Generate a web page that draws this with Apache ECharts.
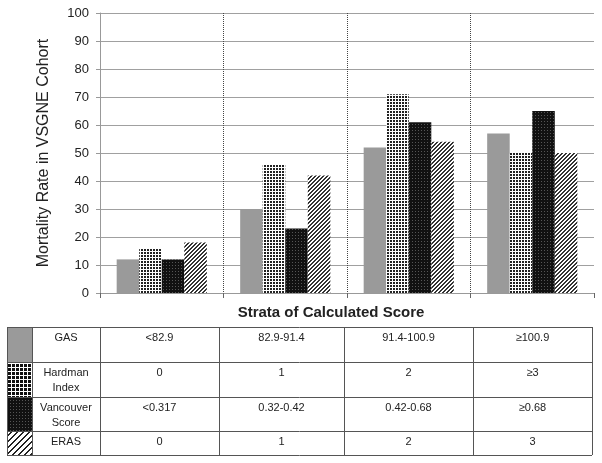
<!DOCTYPE html>
<html>
<head>
<meta charset="utf-8">
<script src="https://cdn.jsdelivr.net/npm/echarts@6/dist/echarts.min.js"></script>
<style>
  html, body { margin: 0; padding: 0; background: #fff; }
  #main { width: 602px; height: 463px; }
</style>
</head>
<body>
<div id="main"></div>
<script>
// strata (x categories) and mortality rate per score
var strata = ['Stratum 1', 'Stratum 2', 'Stratum 3', 'Stratum 4'];
var scoreNames = ['GAS', 'Hardman\nIndex', 'Vancouver\nScore', 'ERAS'];
var gasValues = [12, 30, 52, 57];
var hardmanValues = [16, 46, 71, 50];
var vancouverValues = [12, 23, 61, 65];
var erasValues = [18, 42, 54, 50];

// cut-offs shown in the table under the chart
var gasCuts = ['<82.9', '82.9-91.4', '91.4-100.9', '\u2265100.9'];
var hardmanCuts = ['0', '1', '2', '\u22653'];
var vancouverCuts = ['<0.317', '0.32-0.42', '0.42-0.68', '\u22650.68'];
var erasCuts = ['0', '1', '2', '3'];

var yMin = 0, yMax = 100, yStep = 10;

// little canvas tiles for the black & white fills
function tile(size, paint) {
    var c = document.createElement('canvas');
    c.width = size; c.height = size;
    var ctx = c.getContext('2d');
    for (var x = 0; x < size; x++) {
        for (var y = 0; y < size; y++) {
            ctx.fillStyle = paint(x, y);
            ctx.fillRect(x, y, 1, 1);
        }
    }
    return { image: c, repeat: 'repeat' };
}

var fills = [
    '#9a9a9a',
    tile(3, function (x, y) { return (x < 2 && y < 2) ? '#222' : '#fff'; }),
    tile(3, function (x, y) { return (x == 1 && y == 1) ? '#555' : '#111'; }),
    tile(4, function (x, y) { var k = (x + y) % 4; return (k == 2 || k == 3) ? '#333' : '#fff'; })
];
var swatchFills = [
    '#9a9a9a',
    tile(4, function (x, y) { return (x < 3 && y < 3) ? '#111' : '#fff'; }),
    tile(3, function (x, y) { return (x == 1 && y == 1) ? '#555' : '#111'; }),
    tile(6, function (x, y) { var k = (x + y) % 6; return (k == 4 || k == 5) ? '#222' : '#fff'; })
];

var allValues = [gasValues, hardmanValues, vancouverValues, erasValues];
var allCuts = [gasCuts, hardmanCuts, vancouverCuts, erasCuts];

// table layout
var colX = [7, 32, 100, 219, 344, 473, 592];
var rowY = [327, 362, 397, 431, 455];
var txt = '#222';
var lineCol = '#555';

var table = [];
for (var r = 0; r < 4; r++) {
    table.push({
        type: 'rect',
        shape: { x: colX[0], y: rowY[r], width: colX[1] - colX[0], height: rowY[r + 1] - rowY[r] },
        style: { fill: swatchFills[r] }
    });
    table.push({
        type: 'text',
        style: {
            text: scoreNames[r], x: (colX[1] + colX[2]) / 2, y: rowY[r] + 3,
            textAlign: 'center', textVerticalAlign: 'top', lineHeight: 15,
            font: '11px Arial, "Liberation Sans", sans-serif', fill: txt
        }
    });
    for (var c = 0; c < 4; c++) {
        table.push({
            type: 'text',
            style: {
                text: allCuts[r][c], x: (colX[c + 2] + colX[c + 3]) / 2, y: rowY[r] + 3,
                textAlign: 'center', textVerticalAlign: 'top', lineHeight: 15,
                font: '11px Arial, "Liberation Sans", sans-serif', fill: txt
            }
        });
    }
}
rowY.forEach(function (y) {
    table.push({
        type: 'line',
        shape: { x1: colX[0], y1: y + 0.5, x2: colX[6], y2: y + 0.5 },
        style: { stroke: lineCol, lineWidth: 1 }
    });
});
colX.forEach(function (x) {
    table.push({
        type: 'line',
        shape: { x1: x + 0.5, y1: rowY[0], x2: x + 0.5, y2: rowY[4] },
        style: { stroke: lineCol, lineWidth: 1 }
    });
});
table.push({
    type: 'text',
    style: {
        text: 'Strata of Calculated Score', x: 331, y: 313,
        textAlign: 'center', textVerticalAlign: 'middle',
        font: 'bold 15px Arial, "Liberation Sans", sans-serif', fill: txt
    }
});

var myChart = echarts.init(document.getElementById('main'));
var option = {
    animation: false,
    grid: { left: 100, right: 8, top: 13, bottom: 170 },
    xAxis: {
        type: 'category',
        data: strata,
        axisLine: { lineStyle: { color: '#999' } },
        axisTick: { show: true, length: 5, lineStyle: { color: '#666' } },
        axisLabel: { show: false },
        splitLine: {
            show: true, showMinLine: false, showMaxLine: false,
            lineStyle: { color: '#444', type: 'dotted', width: 1 }
        }
    },
    yAxis: {
        type: 'value',
        min: yMin, max: yMax, interval: yStep,
        name: 'Mortality Rate in VSGNE Cohort',
        nameLocation: 'middle',
        nameGap: 48,
        nameTextStyle: { fontFamily: 'Arial, "Liberation Sans", sans-serif', fontSize: 16, color: txt },
        axisLine: { show: true, lineStyle: { color: '#999' } },
        axisTick: { show: true, length: 4, lineStyle: { color: '#999' } },
        axisLabel: { margin: 11, fontFamily: 'Arial, "Liberation Sans", sans-serif', fontSize: 13, color: txt },
        splitLine: { lineStyle: { color: '#a0a0a0', width: 1 } }
    },
    series: allValues.map(function (vals, i) {
        return {
            name: scoreNames[i].replace('\n', ' '),
            type: 'bar',
            data: vals,
            barGap: '0%',
            barCategoryGap: '27%',
            itemStyle: { color: fills[i] }
        };
    }),
    graphic: table
};
myChart.setOption(option);
</script>
</body>
</html>
